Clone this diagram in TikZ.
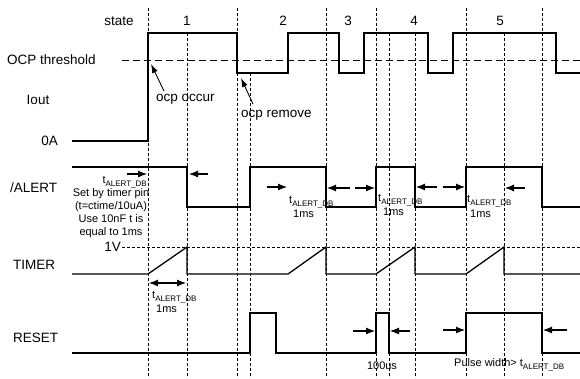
\documentclass[tikz,border=0pt]{standalone}
\usepackage{fontspec}
\setmainfont{Liberation Sans}
\usetikzlibrary{arrows.meta}
\newcommand{\tAlert}{t\raisebox{-2.5pt}{\fontsize{8}{8}\selectfont ALERT\_DB}}

\begin{document}
\begin{tikzpicture}[x=1pt,y=-1pt,
    senal/.style={line width=1.3pt},
    guia/.style={dash pattern=on 3pt off 2pt, line width=0.6pt},
    umbral/.style={dash pattern=on 7pt off 4pt, line width=0.7pt},
    flecha/.style={-{Latex[length=9pt,width=7pt]}, line width=1.1pt},
    etiq/.style={font=\fontsize{13.5}{14}\selectfont, inner sep=0pt},
    nota/.style={font=\fontsize{11}{13}\selectfont, inner sep=0pt}]
  \useasboundingbox (0,0) rectangle (580,378);

  % Lineas de estado
  \foreach \x in {148,237,326,376,466,542}
    \draw[guia] (\x,8) -- (\x,378);
  \foreach \x in {187,389,415,504}
    \draw[guia] (\x,33) -- (\x,378);
  \draw[guia] (250,73) -- (250,378);

  % Estados
  \node[etiq] (estado) at (119,21) {state};
  \node[etiq] (e1) at (187,21) {1};
  \node[etiq] (e2) at (283,21) {2};
  \node[etiq] (e3) at (348,21) {3};
  \node[etiq] (e4) at (414,21) {4};
  \node[etiq] (e5) at (500,21) {5};

  % Nombres de las senales
  \node[etiq, anchor=west] (ocp) at (7,60) {OCP threshold};
  \node[etiq] (iout) at (38,100) {Iout};
  \node[etiq, anchor=east] (cero) at (58,141) {0A};
  \node[etiq, anchor=west] (alert) at (10,188) {/ALERT};
  \node[etiq, anchor=west] (timer) at (13,265) {TIMER};
  \node[etiq, anchor=west] (reset) at (13,338) {RESET};

  % Umbral y 1V
  \draw[umbral] (122,60) -- (580,60);
  \draw[guia] (122,247) -- (580,247);
  \node[etiq, anchor=east] (unv) at (121,247) {1V};

  % Iout
  \draw[senal] (72,141) -- (148,141) -- (148,33) -- (237,33) -- (237,73)
    -- (288,73) -- (288,33) -- (339,33) -- (339,73) -- (364,73) -- (364,33)
    -- (428,33) -- (428,73) -- (453,73) -- (453,33) -- (556,33) -- (556,73)
    -- (580,73);
  \node[etiq, anchor=west] (occur) at (156,99) {ocp occur};
  \node[etiq, anchor=west] (remove) at (241,115) {ocp remove};
  \coordinate (cruce) at (151,64);
  \coordinate (baja) at (241,78);
  \draw[-{Latex[length=9pt,width=6pt]}, line width=0.9pt] (164,91) -- (cruce);
  \draw[-{Latex[length=9pt,width=6pt]}, line width=0.9pt] (253,104) -- (baja);

  % /ALERT
  \draw[senal] (72,167) -- (187,167) -- (187,207) -- (250,207) -- (250,167)
    -- (326,167) -- (326,207) -- (376,207) -- (376,167) -- (415,167)
    -- (415,207) -- (466,207) -- (466,167) -- (542,167) -- (542,207)
    -- (580,207);
  \draw[flecha] (127,174) -- (147,174);
  \draw[flecha] (208,174) -- (189,174);
  \draw[flecha] (267,187) -- (287,187);
  \draw[flecha] (350,188) -- (327,188);
  \draw[flecha] (355,188) -- (375,188);
  \draw[flecha] (437,187) -- (416,187);
  \draw[flecha] (443,187) -- (465,187);
  \draw[flecha] (525,188) -- (505,188);
  \node[nota, anchor=east] (db1) at (147,182) {\tAlert};
  \node[nota, anchor=north, align=center] (pin) at (111,188)
    {Set by timer pin\\(t=ctime/10uA)\\Use 10nF t is\\equal to 1ms};
  \node[nota, anchor=west] (db2) at (289,202) {\tAlert};
  \node[nota, anchor=west] (ms2) at (293,214) {1ms};
  \node[nota, anchor=west] (db3) at (378,200) {\tAlert};
  \node[nota, anchor=west] (ms3) at (383,212) {1ms};
  \node[nota, anchor=west] (db4) at (467,201) {\tAlert};
  \node[nota, anchor=west] (ms4) at (470,214) {1ms};

  % TIMER
  \draw[senal] (72,274) -- (148,274) -- (187,247) -- (187,274) -- (288,274)
    -- (326,247) -- (326,274) -- (376,274) -- (415,247) -- (415,274)
    -- (466,274) -- (504,247) -- (504,274) -- (580,274);
  \draw[{Latex[length=9pt,width=7pt]}-{Latex[length=9pt,width=7pt]}, line width=1.1pt]
    (149,283) -- (186,283);
  \node[nota, anchor=west] (db5) at (152,297) {\tAlert};
  \node[nota, anchor=west] (ms5) at (156,309) {1ms};

  % RESET
  \draw[senal] (72,353) -- (250,353) -- (250,313) -- (276,313) -- (276,353)
    -- (376,353) -- (376,313) -- (389,313) -- (389,353) -- (466,353)
    -- (466,313) -- (542,313) -- (542,353) -- (580,353);
  \draw[flecha] (353,331) -- (375,331);
  \draw[flecha] (410,331) -- (390,331);
  \draw[flecha] (443,330) -- (465,330);
  \draw[flecha] (567,330) -- (543,330);
  \node[nota] (cien) at (382,366) {100us};
  \node[nota, anchor=west] (ancho) at (454,365) {Pulse width> \tAlert};
\end{tikzpicture}
\end{document}
